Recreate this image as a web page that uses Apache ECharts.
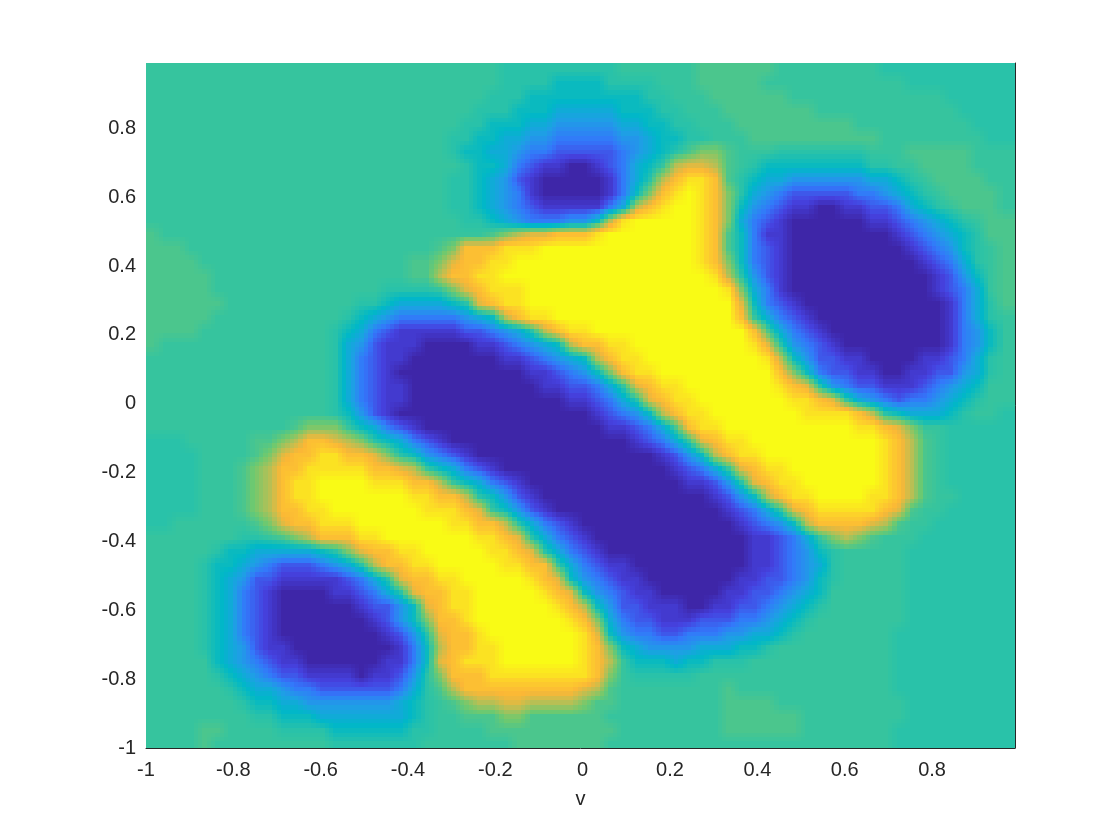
<!DOCTYPE html>
<html>
<head>
<meta charset="utf-8">
<style>html,body{margin:0;padding:0;background:#fff}#c{width:1120px;height:840px}</style>
<script src="https://cdn.jsdelivr.net/npm/echarts@6/dist/echarts.min.js"></script>
</head>
<body>
<div id="c"></div>
<script>
const xTicks = [-1,-0.8,-0.6,-0.4,-0.2,0,0.2,0.4,0.6,0.8];
const yTicks = [-1,-0.8,-0.6,-0.4,-0.2,0,0.2,0.4,0.6,0.8];
const xName = 'v';
const parula = ['#3e26a8','#4542e0','#3378fa','#1f9ee6','#00b8c7','#33c4a1','#70c96e','#b8bf54','#fbb736','#fdd12b','#f9fb15'];
// value of each level character 0-f
const levelValues = [0,.07,.14,.21,.28,.35,.42,.48,.505,.54,.62,.70,.76,.83,.94,1];
// field, top row first, left to right
const fieldRows = [
"88888888888 88888888888 88888777777 77788888899 99998888888 87777777777",
"88888888888 88888888888 88888777766 66777788899 99988888888 88877777777",
"88888888888 88888888888 88887776666 66666778889 99999888888 88888877777",
"88888888888 88888888888 88877766655 55566677888 99999998888 88888887777",
"88888888888 88888888888 88776665544 44455667788 89999999998 88888888777",
"88888888888 88888888888 87766554433 33344566778 88999999999 98888888877",
"88888888888 88888888888 87665543322 222345679aa 98887777777 88899999888",
"88888888888 88888888888 88766532110 0123568bccb 98766666666 77889999888",
"88888888888 88888888888 87765421000 001357bdeed 97655444444 55678999988",
"88888888888 88888888888 87765431000 00136adefed a7543222223 34567899998",
"88888888888 88888888888 87765432111 1135bdeffed a6432110011 22356789998",
"88888888888 88888888888 88776543334 46befffffed a5321000000 11234567899",
"98888888888 88888888888 88889abccdd defffffffed 96311000000 00123456799",
"99988888888 88888888888 9adddeeefff fffffffffed 96321000000 00012346789",
"99998888888 88888888899 acddeefffff fffffffffed a6321000000 00001235789",
"99999888888 88888888899 bddeeffffff ffffffffffe b7421000000 00000124689",
"99999888888 88888887777 8acdeeeffff fffffffffff ea531000000 00000123589",
"99999988888 88888776555 567cdeeffff fffffffffff fc632100000 00000013579",
"99999888888 88887654333 33456bdeeff fffffffffff fd853210000 00000013578",
"99998888888 88876532111 11223457bde effffffffff ffd95321000 00000013468",
"98888888888 88875421110 0001123456b ddeefffffff ffec7432100 00000013468",
"88888888888 88875321100 00000112345 6bdeeffffff fffeb642211 00001123578",
"88888888888 88875321000 00000001123 46adeefffff ffffda63221 10011224578",
"88888888888 88875321100 00000000112 2358cdeefff ffffedc7432 21112345688",
"88888888888 88875321100 00000000001 12357cdeeff fffffeedc85 43233456788",
"88888888888 88876421000 00000000000 012346bdeef ffffffeeeed b7655567887",
"88888888888 9aaa8653210 00000000000 00112359dee ffffffffffe edca8877777",
"7778888899a bddcba76532 10000000000 000012358cd eefffffffff fedb9877777",
"777788889ac ddeeddca764 32100000000 0000001246b deeffffffff fedb9877777",
"77778889abd deeeeeddcb8 65321000000 00000001235 8cdeeffffff fedb9877777",
"77778889abd eeffffeeedd b8653210000 00000000112 47cdeefffff fedb9877777",
"77778889abd eefffffffee ddb76421000 00000000001 246bdeeffff eedb9887777",
"77778889abd deefffffffe eedc8642100 00000000000 12358cdeeee edc98877777",
"778888889ac ddeeeffffff feeddb75321 00000000000 012346bdddd cb988777777",
"88888887789 abdddeeffff fffeedc7532 10000000000 00112358aba 98887777777",
"88888766555 5567acddeef ffffeedc753 21000000000 00112346788 88877777777",
"88887665432 223457bddee fffffeedd85 32110000000 00112345788 88877777777",
"88887654221 11112357cdd eefffffedc6 43211000000 01122346788 88877777777",
"88887653210 000112357cd deefffffedc 64321100000 11223456888 88877777777",
"88887653210 0000012246c deeffffffed b6422111001 12234567888 88877777777",
"88887653210 0000001246a ddefffffffe da532211122 23345678888 88877777777",
"88887653210 00000001247 cddefffffff ec643322333 44556788888 88777777777",
"88887654211 00000000136 bddeeffffff eda65444455 56678888888 88777777777",
"88888654321 10000001136 cdeeeffffff edb86665667 77888888888 88777777777",
"88888765432 21111011247 adddeeeeeee eda87777788 88888888888 88777777777",
"88888876554 33222222357 9bddddddddd cb988888888 98888888888 88777777777",
"88888887665 54444444567 89abbccbbbb a9988888888 99998888888 88877777777",
"88888888776 66555555567 88999aa9999 99888888888 99999988888 88877777777",
"88889988887 77766666677 88889999999 99988888888 99999988888 88777777777",
"88889888888 88877777778 88888899999 99888888888 88888888888 88777777777"
];
const xStart = -1, xEnd = 0.99, xStep = 0.03;
const yTop = 0.99, yEnd = -1, yStep = 0.04;
const shadeSteps = 3; // interpolated shading inside each cell, as in the reference

const field = fieldRows.map(r => r.replace(/ /g, '').split('').map(ch => levelValues[parseInt(ch, 16)]));
const nRows = field.length, nCols = field[0].length;
const cells = [];
field.forEach((row, j) => row.forEach((v, i) => cells.push([xStart + i * xStep, yTop - j * yStep, v, i, j])));

function shade(i, j, u, v) {
  const cu = u - 0.5, cv = v - 0.5;
  const i2 = Math.min(nCols - 1, Math.max(0, i + Math.sign(cu))), j2 = Math.min(nRows - 1, Math.max(0, j + Math.sign(cv)));
  const au = Math.abs(cu), av = Math.abs(cv);
  return field[j][i] * (1 - au) * (1 - av) + field[j][i2] * au * (1 - av) + field[j2][i] * (1 - au) * av + field[j2][i2] * au * av;
}

const font = '"Liberation Sans", Helvetica, Arial, sans-serif';
const inkColor = '#262626';
const chart = echarts.init(document.getElementById('c'), null, {renderer: 'canvas'});
chart.setOption({
  animation: false,
  backgroundColor: '#fff',
  grid: {left: 146, right: 105, top: 63, bottom: 92},
  xAxis: {
    type: 'value', min: -1, max: xEnd, interval: 0.2, z: 10,
    name: xName, nameLocation: 'middle', nameGap: 41,
    nameTextStyle: {color: inkColor, fontSize: 20, fontFamily: font},
    axisLine: {show: true, onZero: false, lineStyle: {color: inkColor, width: 1}},
    axisTick: {show: false}, splitLine: {show: false},
    axisLabel: {color: inkColor, fontSize: 20, fontFamily: font, margin: 12, customValues: xTicks, formatter: v => String(v)}
  },
  yAxis: [{
    type: 'value', min: -1, max: yTop, interval: 0.2, z: 10,
    axisLine: {show: false}, axisTick: {show: false}, splitLine: {show: false},
    axisLabel: {color: inkColor, fontSize: 20, fontFamily: font, margin: 10, padding: [2, 0, 0, 0], customValues: yTicks, formatter: v => String(v)}
  }, {
    type: 'value', min: -1, max: yTop, interval: 0.2, position: 'right', z: 10,
    axisLine: {show: true, onZero: false, lineStyle: {color: inkColor, width: 1}},
    axisTick: {show: false}, splitLine: {show: false}, axisLabel: {show: false}
  }],
  series: [{
    type: 'custom', coordinateSystem: 'cartesian2d', clip: true,
    encode: {x: 0, y: 1},
    data: cells,
    renderItem: (params, api) => {
      const x0 = api.value(0), y0 = api.value(1), i = api.value(3), j = api.value(4);
      const p0 = api.coord([x0, y0]);
      const p1 = api.coord([i === nCols - 1 ? xEnd : x0 + xStep, Math.max(y0 - yStep, yEnd)]);
      const w = (p1[0] - p0[0]) / shadeSteps, h = (p1[1] - p0[1]) / shadeSteps;
      const children = [];
      for (let a = 0; a < shadeSteps; a++) for (let b = 0; b < shadeSteps; b++) {
        const l = Math.floor(p0[0] + a * w), t = Math.floor(p0[1] + b * h);
        const r = Math.ceil(p0[0] + (a + 1) * w), d = Math.ceil(p0[1] + (b + 1) * h);
        children.push({type: 'rect', shape: {x: l, y: t, width: r - l, height: d - t},
          style: {fill: echarts.color.lerp(shade(i, j, (a + .5) / shadeSteps, (b + .5) / shadeSteps), parula)}});
      }
      return {type: 'group', children};
    }
  }]
});
</script>
</body>
</html>
